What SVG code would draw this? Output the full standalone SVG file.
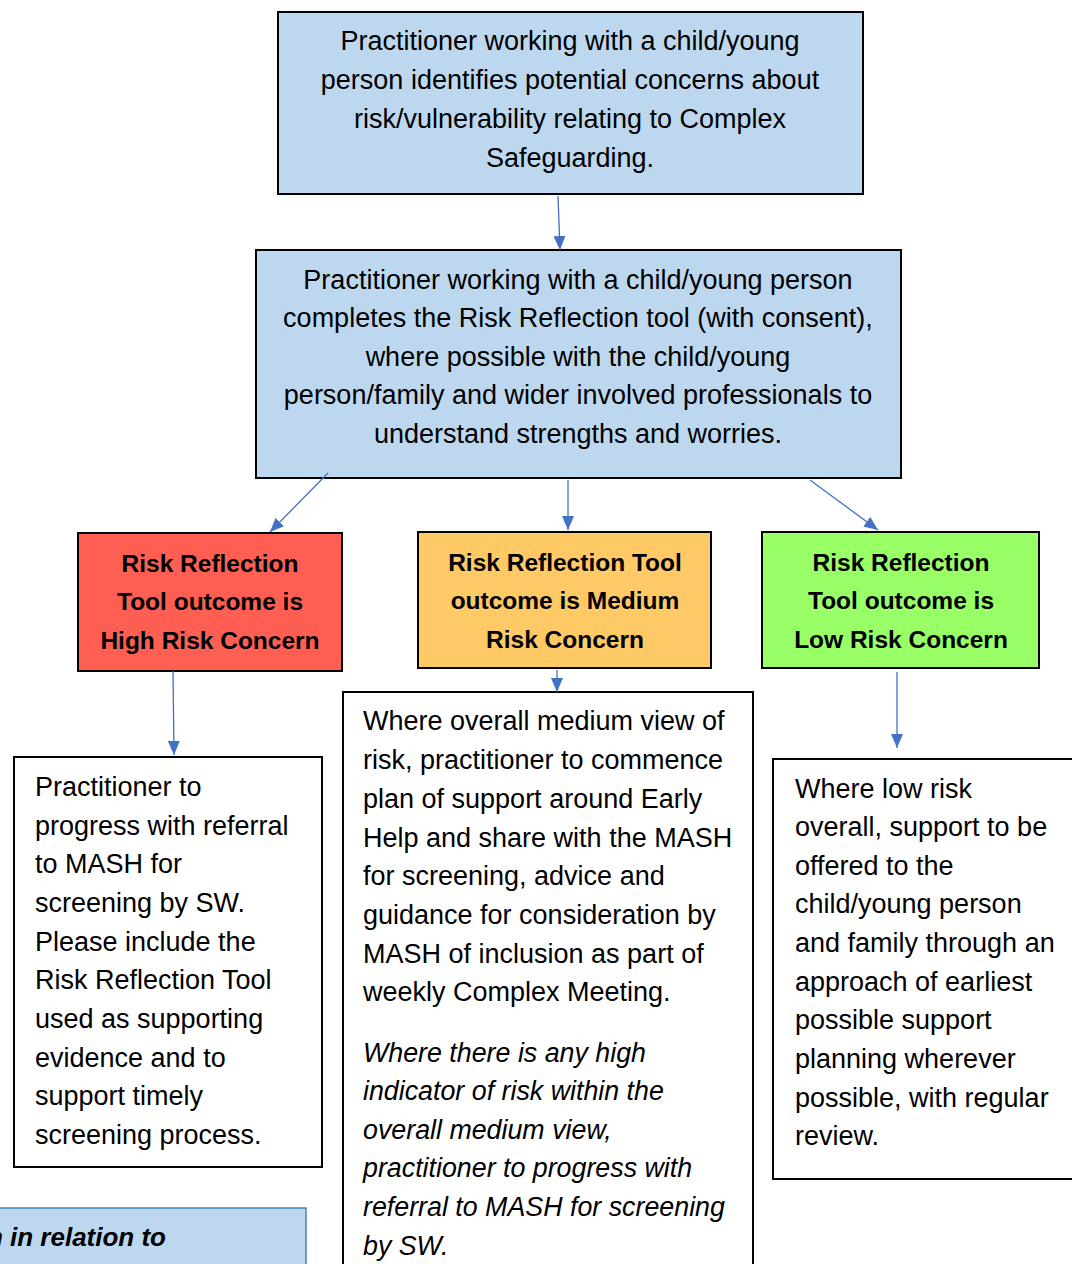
<svg xmlns="http://www.w3.org/2000/svg" width="1072" height="1264" viewBox="0 0 1072 1264">
<style>
.box{stroke:#000;stroke-width:2}
.blue{fill:#bdd7ee}
.w{fill:#fff}
text{font-family:"Liberation Sans",Arial,sans-serif;font-size:27px;fill:#000}
.c{text-anchor:middle}
.b{font-weight:bold;font-size:24.5px}
.i{font-style:italic;font-size:26.8px}
.bi{font-weight:bold;font-style:italic;font-size:26px}
.con line{stroke:#4472c4;stroke-width:1.3;marker-end:url(#ah)}
</style>
<defs>
<marker id="ah" viewBox="0 0 14 12" refX="14" refY="6" markerWidth="14" markerHeight="12" markerUnits="userSpaceOnUse" orient="auto">
<path d="M0,0 L14,6 L0,12 z" fill="#4472c4"/>
</marker>
</defs>
<rect width="1072" height="1264" fill="#fff"/>
<g id="n1">
<rect class="box blue" x="278" y="12" width="585" height="182"/>
<text class="c" x="570" y="50">Practitioner working with a child/young</text>
<text class="c" x="570" y="89">person identifies potential concerns about</text>
<text class="c" x="570" y="128">risk/vulnerability relating to Complex</text>
<text class="c" x="570" y="167">Safeguarding.</text>
</g>
<g id="n2">
<rect class="box blue" x="256" y="250" width="645" height="228"/>
<text class="c" x="578" y="289">Practitioner working with a child/young person</text>
<text class="c" x="578" y="327">completes the Risk Reflection tool (with consent),</text>
<text class="c" x="578" y="366">where possible with the child/young</text>
<text class="c" x="578" y="404">person/family and wider involved professionals to</text>
<text class="c" x="578" y="443">understand strengths and worries.</text>
</g>
<g id="high">
<rect class="box" fill="#fe5f52" x="78" y="533" width="264" height="138"/>
<text class="c b" x="210" y="572">Risk Reflection</text>
<text class="c b" x="210" y="610">Tool outcome is</text>
<text class="c b" x="210" y="649">High Risk Concern</text>
</g>
<g id="medium">
<rect class="box" fill="#ffc966" x="418" y="532" width="293" height="136"/>
<text class="c b" x="565" y="571">Risk Reflection Tool</text>
<text class="c b" x="565" y="609">outcome is Medium</text>
<text class="c b" x="565" y="648">Risk Concern</text>
</g>
<g id="low">
<rect class="box" fill="#99ff66" x="762" y="532" width="277" height="136"/>
<text class="c b" x="901" y="571">Risk Reflection</text>
<text class="c b" x="901" y="609">Tool outcome is</text>
<text class="c b" x="901" y="648">Low Risk Concern</text>
</g>
<g id="highAction">
<rect class="box w" x="14" y="757" width="308" height="410"/>
<text x="35" y="796">Practitioner to</text>
<text x="35" y="835">progress with referral</text>
<text x="35" y="873">to MASH for</text>
<text x="35" y="912">screening by SW.</text>
<text x="35" y="951">Please include the</text>
<text x="35" y="989">Risk Reflection Tool</text>
<text x="35" y="1028">used as supporting</text>
<text x="35" y="1067">evidence and to</text>
<text x="35" y="1105">support timely</text>
<text x="35" y="1144">screening process.</text>
</g>
<g id="mediumAction">
<rect class="box w" x="343" y="692" width="410" height="590"/>
<text x="363" y="730">Where overall medium view of</text>
<text x="363" y="769">risk, practitioner to commence</text>
<text x="363" y="808">plan of support around Early</text>
<text x="363" y="847">Help and share with the MASH</text>
<text x="363" y="885">for screening, advice and</text>
<text x="363" y="924">guidance for consideration by</text>
<text x="363" y="963">MASH of inclusion as part of</text>
<text x="363" y="1001">weekly Complex Meeting.</text>
<text class="i" x="363" y="1062">Where there is any high</text>
<text class="i" x="363" y="1100">indicator of risk within the</text>
<text class="i" x="363" y="1139">overall medium view,</text>
<text class="i" x="363" y="1177">practitioner to progress with</text>
<text class="i" x="363" y="1216">referral to MASH for screening</text>
<text class="i" x="363" y="1255">by SW.</text>
</g>
<g id="lowAction">
<rect class="box w" x="773" y="759" width="310" height="420"/>
<text x="795" y="798">Where low risk</text>
<text x="795" y="836">overall, support to be</text>
<text x="795" y="875">offered to the</text>
<text x="795" y="913">child/young person</text>
<text x="795" y="952">and family through an</text>
<text x="795" y="991">approach of earliest</text>
<text x="795" y="1029">possible support</text>
<text x="795" y="1068">planning wherever</text>
<text x="795" y="1107">possible, with regular</text>
<text x="795" y="1145">review.</text>
</g>
<g id="note">
<rect fill="#bdd7ee" stroke="#2e75b6" stroke-width="1.3" x="-10" y="1208" width="316" height="70"/>
<text class="bi" x="166" y="1246" text-anchor="end">n in relation to</text>
</g>
<g id="connectors" class="con">
<line x1="558" y1="196" x2="560" y2="250"/>
<line x1="328" y1="473" x2="270" y2="532"/>
<line x1="568" y1="480" x2="568" y2="530"/>
<line x1="810" y1="480" x2="878" y2="530"/>
<line x1="173" y1="671" x2="174" y2="755"/>
<line x1="557" y1="670" x2="557" y2="692"/>
<line x1="897" y1="672" x2="897" y2="748"/>
</g>
</svg>
